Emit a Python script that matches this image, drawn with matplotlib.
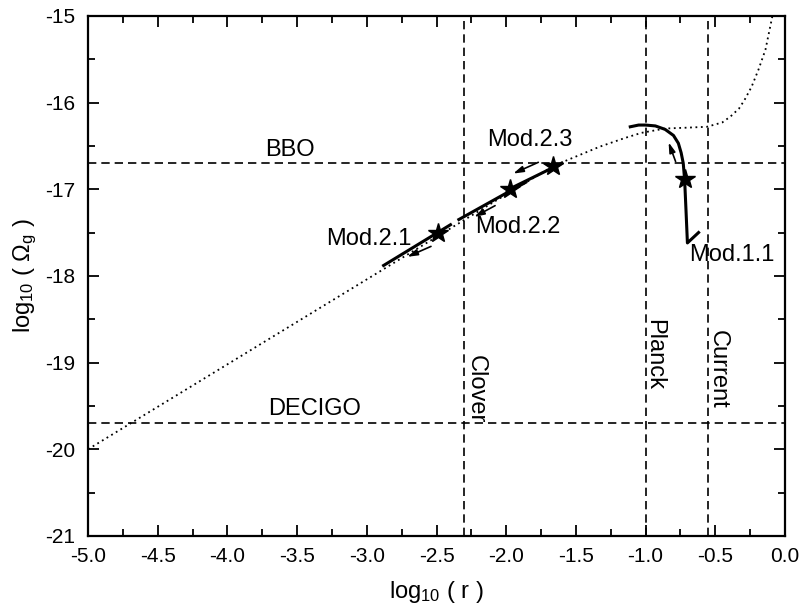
import matplotlib.pyplot as plt
from matplotlib.ticker import MultipleLocator

plt.rcParams['font.family'] = ['Liberation Sans', 'DejaVu Sans']
plt.rcParams['axes.unicode_minus'] = False
plt.rcParams['mathtext.fontset'] = 'custom'
plt.rcParams['mathtext.rm'] = 'Liberation Sans'
plt.rcParams['mathtext.it'] = 'Liberation Sans'

# dotted background curve
curve_x = [-5.0, -4.0, -3.0, -2.5, -2.0, -1.66, -1.45, -1.33, -1.15, -1.03, -0.86, -0.70,
           -0.56, -0.45, -0.39, -0.33, -0.29, -0.24, -0.19, -0.14, -0.09]
curve_y = [-20.0, -19.02, -18.04, -17.55, -17.06, -16.73, -16.59, -16.51, -16.41, -16.35, -16.30, -16.29,
           -16.28, -16.23, -16.16, -16.07, -15.97, -15.82, -15.62, -15.39, -15.0]

# model trajectories (solid)
mod11_x = [-1.11, -1.05, -1.0, -0.93, -0.86, -0.80, -0.765, -0.745, -0.73, -0.72, -0.71, -0.70, -0.62]
mod11_y = [-16.28, -16.26, -16.26, -16.27, -16.31, -16.38, -16.47, -16.58, -16.70, -16.89, -17.25, -17.62, -17.50]
mod21_x = [-2.88, -2.40]
mod21_y = [-17.88, -17.41]
mod22_x = [-2.34, -1.86]
mod22_y = [-17.35, -16.92]
mod23_x = [-1.98, -1.60]
mod23_y = [-17.00, -16.70]

# stars
star_x = [-2.49, -1.97, -1.665, -0.715]
star_y = [-17.50, -17.00, -16.73, -16.88]

# arrows: (tail, head)
arrows = [((-2.54, -17.66), (-2.71, -17.78)),
          ((-2.08, -17.19), (-2.23, -17.32)),
          ((-1.77, -16.69), (-1.95, -16.82)),
          ((-0.785, -16.68), (-0.835, -16.46))]

# detector limits
hlines = {'BBO': -16.7, 'DECIGO': -19.7}
vlines = {'Clover': -2.3, 'Planck': -1.0, 'Current': -0.55}

fig = plt.figure(figsize=(8.01, 6.09), dpi=100)
ax = fig.add_axes([0.110, 0.120, 0.870, 0.854])

ax.plot(curve_x, curve_y, color='k', ls=(0, (1, 2)), lw=1.3)
for xs, ys in [(mod11_x, mod11_y), (mod21_x, mod21_y), (mod22_x, mod22_y), (mod23_x, mod23_y)]:
    ax.plot(xs, ys, color='k', lw=2.2)
ax.plot(star_x, star_y, ls='none', marker='*', ms=15, color='k')

for (tx, ty), (hx, hy) in arrows:
    ax.annotate('', xy=(hx, hy), xytext=(tx, ty),
                arrowprops=dict(arrowstyle='-|>,head_length=0.6,head_width=0.18', color='k',
                                lw=1.2, shrinkA=0, shrinkB=0))

for name, y in hlines.items():
    ax.axhline(y, color='k', ls=(0, (5, 3)), lw=1.2)
for name, x in vlines.items():
    ax.axvline(x, color='k', ls=(0, (5, 3)), lw=1.2)

fs = 17
ax.text(-3.73, -16.55, 'BBO', fontsize=fs, va='center', ha='left')
ax.text(-3.71, -19.54, 'DECIGO', fontsize=fs, va='center', ha='left')
ax.text(-3.29, -17.58, 'Mod.2.1', fontsize=fs, va='center', ha='left')
ax.text(-2.22, -17.44, 'Mod.2.2', fontsize=fs, va='center', ha='left')
ax.text(-2.14, -16.43, 'Mod.2.3', fontsize=fs, va='center', ha='left')
ax.text(-0.69, -17.76, 'Mod.1.1', fontsize=fs, va='center', ha='left')
ax.text(-2.22, -19.31, 'Clover', fontsize=fs, va='center', ha='center', rotation=-90)
ax.text(-0.94, -18.91, 'Planck', fontsize=fs, va='center', ha='center', rotation=-90)
ax.text(-0.48, -19.08, 'Current', fontsize=fs, va='center', ha='center', rotation=-90)

ax.set_xlim(-5.0, 0.0)
ax.set_ylim(-21, -15)
ax.xaxis.set_major_locator(MultipleLocator(0.5))
ax.xaxis.set_minor_locator(MultipleLocator(0.25))
ax.yaxis.set_major_locator(MultipleLocator(1))
ax.yaxis.set_minor_locator(MultipleLocator(0.5))
ax.xaxis.set_major_formatter(plt.FormatStrFormatter('%.1f'))
ax.tick_params(which='both', direction='in', top=True, right=True, labelsize=15, width=1.3)
ax.tick_params(which='major', length=8)
ax.tick_params(which='minor', length=5)
ax.tick_params(axis='x', which='major', pad=8)
ax.tick_params(axis='y', which='major', pad=9)
for s in ax.spines.values():
    s.set_linewidth(1.6)

ax.set_xlabel(r'log$_{10}$ ( r )', fontsize=17, labelpad=9)
ax.set_ylabel(r'log$_{10}$ ( Ω$_\mathrm{g}$ )', fontsize=17, labelpad=5)

fig.savefig('out.png', dpi=100)
